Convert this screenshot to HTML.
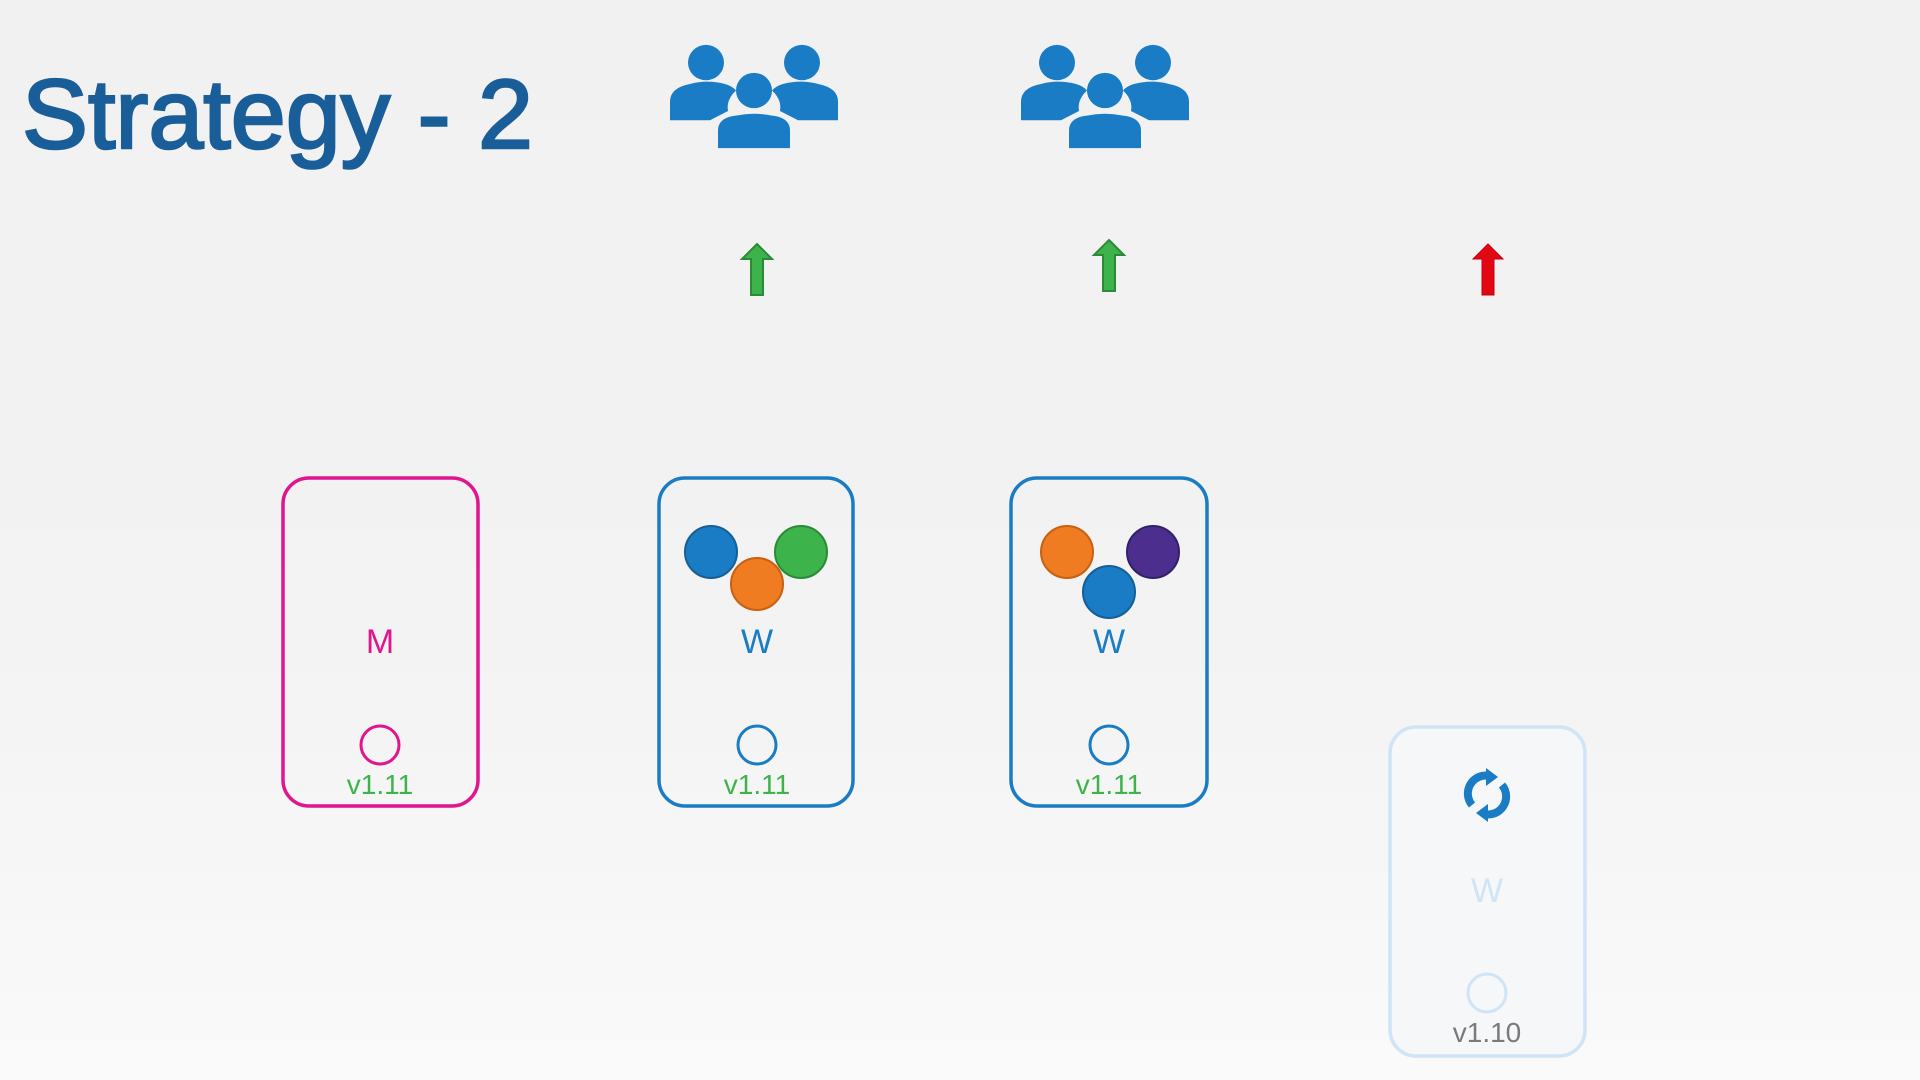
<!DOCTYPE html>
<html><head><meta charset="utf-8"><style>
html,body{margin:0;padding:0;width:1920px;height:1080px;overflow:hidden;}
body{background:linear-gradient(180deg,#f1f1f1 0%,#f3f3f3 60%,#fafafa 100%);}
svg{display:block}
</style></head><body>
<svg width="1920" height="1080" viewBox="0 0 1920 1080" xmlns="http://www.w3.org/2000/svg">
<defs>
<g id="people" fill="#1a7cc4">
  <ellipse cx="36" cy="20" rx="18" ry="19"/>
  <path d="M0 82 L0 62 Q0 47 20 43 Q37 38 55 43 Q62 45 66 50 Q56 60 58 72 L40 82 Z"/>
  <ellipse cx="132" cy="20" rx="18" ry="19"/>
  <path d="M168 82 L168 62 Q168 47 148 43 Q131 38 113 43 Q106 45 102 50 Q112 60 110 72 L128 82 Z"/>
  <ellipse cx="84" cy="50" rx="18" ry="19"/>
  <path d="M48 112 L48 93 Q48 79 66 77 Q84 73 102 77 Q120 79 120 93 L120 112 Z"/>
</g>
</defs>

<text x="22" y="148" font-family="Liberation Sans, sans-serif" font-size="98" fill="#1a5e99" stroke="#1a5e99" stroke-width="2.5" textLength="511" lengthAdjust="spacingAndGlyphs">Strategy - 2</text>

<g transform="translate(670,44) scale(1,0.93)"><use href="#people"/></g>
<g transform="translate(1021,44) scale(1,0.93)"><use href="#people"/></g>

<!-- arrows -->
<path d="M757 244 L772 259 L763 259 L763 295 L751 295 L751 259 L742 259 Z" fill="#3cb44b" stroke="#2a8a35" stroke-width="2"/>
<path d="M1109 240 L1124 255 L1115 255 L1115 291 L1103 291 L1103 255 L1094 255 Z" fill="#3cb44b" stroke="#2a8a35" stroke-width="2"/>
<path d="M1488 244 L1503 259 L1494 259 L1494 295 L1482 295 L1482 259 L1473 259 Z" fill="#e30613" stroke="#c00010" stroke-width="1"/>

<!-- M box -->
<rect x="283" y="478" width="195" height="328" rx="26" fill="none" stroke="#e0168e" stroke-width="3.5"/>
<text x="380" y="653" text-anchor="middle" font-family="Liberation Sans, sans-serif" font-size="34" fill="#e0168e">M</text>
<circle cx="380" cy="745" r="19" fill="none" stroke="#e0168e" stroke-width="3"/>
<text x="380" y="794" text-anchor="middle" font-family="Liberation Sans, sans-serif" font-size="28" fill="#3cb44b">v1.11</text>

<!-- W box 1 -->
<rect x="659" y="478" width="194" height="328" rx="26" fill="none" stroke="#1a7cc4" stroke-width="3.5"/>
<circle cx="711" cy="552" r="26" fill="#1a7cc4" stroke="#155f96" stroke-width="2"/>
<circle cx="801" cy="552" r="26" fill="#3cb44b" stroke="#2a8a35" stroke-width="2"/>
<circle cx="757" cy="584" r="26" fill="#f07c22" stroke="#c85f12" stroke-width="2"/>
<text x="757" y="653" text-anchor="middle" font-family="Liberation Sans, sans-serif" font-size="34" fill="#1a7cc4">W</text>
<circle cx="757" cy="745" r="19" fill="none" stroke="#1a7cc4" stroke-width="3"/>
<text x="757" y="794" text-anchor="middle" font-family="Liberation Sans, sans-serif" font-size="28" fill="#3cb44b">v1.11</text>

<!-- W box 2 -->
<rect x="1011" y="478" width="196" height="328" rx="26" fill="none" stroke="#1a7cc4" stroke-width="3.5"/>
<circle cx="1067" cy="552" r="26" fill="#f07c22" stroke="#c85f12" stroke-width="2"/>
<circle cx="1153" cy="552" r="26" fill="#4b2e8e" stroke="#33206a" stroke-width="2"/>
<circle cx="1109" cy="592" r="26" fill="#1a7cc4" stroke="#155f96" stroke-width="2"/>
<text x="1109" y="653" text-anchor="middle" font-family="Liberation Sans, sans-serif" font-size="34" fill="#1a7cc4">W</text>
<circle cx="1109" cy="745" r="19" fill="none" stroke="#1a7cc4" stroke-width="3"/>
<text x="1109" y="794" text-anchor="middle" font-family="Liberation Sans, sans-serif" font-size="28" fill="#3cb44b">v1.11</text>

<!-- faded box -->
<rect x="1390" y="727" width="195" height="329" rx="26" fill="#f6f7f8" stroke="#cfe4f6" stroke-width="3.5"/>
<g fill="none" stroke="#1a7cc4" stroke-width="8">
  <path d="M1472 805 A18 18 0 0 1 1490 776"/>
  <path d="M1502 785 A18 18 0 0 1 1484 814"/>
</g>
<path d="M1486 768 L1498 777 L1486 786 Z" fill="#1a7cc4"/>
<path d="M1488 822 L1476 813 L1488 804 Z" fill="#1a7cc4"/>
<text x="1487" y="902" text-anchor="middle" font-family="Liberation Sans, sans-serif" font-size="34" fill="#cfe4f6">W</text>
<circle cx="1487" cy="993" r="19" fill="none" stroke="#cfe4f6" stroke-width="3"/>
<text x="1487" y="1042" text-anchor="middle" font-family="Liberation Sans, sans-serif" font-size="28" fill="#7a7a7a">v1.10</text>
</svg>
</body></html>
